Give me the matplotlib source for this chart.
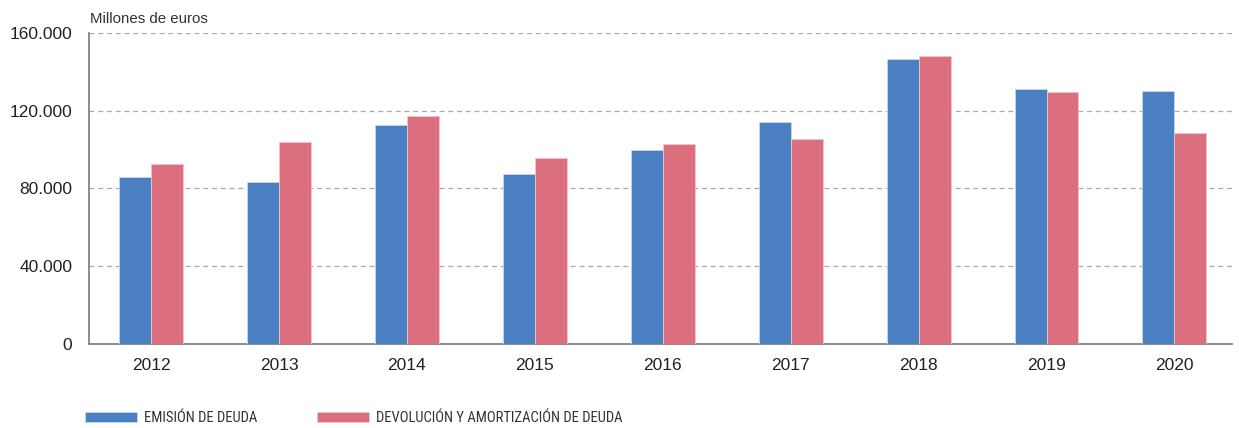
import numpy as np
import matplotlib.pyplot as plt
from matplotlib.ticker import FuncFormatter

years = ['2012', '2013', '2014', '2015', '2016', '2017', '2018', '2019', '2020']
emision = [85900, 83300, 112700, 87500, 99800, 114200, 146600, 131200, 130300]
devolucion = [92600, 103900, 117300, 95700, 102900, 105500, 148300, 129800, 108400]

azul = '#4A7FC1'
rosa = '#DB6F7E'

plt.rcParams['font.family'] = ['Liberation Sans', 'DejaVu Sans']

fig = plt.figure(figsize=(12.39, 4.28), dpi=100)
ax = fig.add_axes([89/1239, 1-344/428, (1232-89)/1239, (344-33)/428])

x = np.arange(len(years))
w = 0.25
ax.bar(x - w/2, emision, w, color=azul, edgecolor='#C8D6EA', linewidth=0.6, label='EMISIÓN DE DEUDA', zorder=3)
ax.bar(x + w/2, devolucion, w, color=rosa, edgecolor='#F0C4CA', linewidth=0.6, label='DEVOLUCIÓN Y AMORTIZACIÓN DE DEUDA', zorder=3)

ax.set_ylim(0, 160000)
ax.set_xlim(-0.485, 8.45)
ax.set_yticks([0, 40000, 80000, 120000, 160000])
ax.yaxis.set_major_formatter(FuncFormatter(lambda v, p: f'{int(v):,}'.replace(',', '.')))
ax.set_xticks(x)
ax.set_xticklabels(years)
ax.tick_params(axis='both', length=0, labelsize=12.5, colors='#222222')
ax.tick_params(axis='x', pad=10)
ax.tick_params(axis='y', pad=12)
ax.grid(axis='y', linestyle=(0, (4, 3)), color='#AAAAAA', linewidth=0.9, zorder=0)
for s in ['top', 'right']:
    ax.spines[s].set_visible(False)
for s in ['left', 'bottom']:
    ax.spines[s].set_color('#7A7A7A')
    ax.spines[s].set_linewidth(1.2)

fig.text(90/1239, 1-19/428, 'Millones de euros', fontsize=10.8, color='#333333', va='center')

# leyenda abajo, letra estrecha
fs = 10.5
px = fs * 100 / 72
fig.legend(loc='center left', bbox_to_anchor=(85/1239, 1-418/428), ncol=2, frameon=False,
           prop={'family': ['Roboto Condensed', 'Liberation Sans'], 'size': fs},
           handlelength=52/px, handleheight=9/px, columnspacing=60/px, handletextpad=7/px,
           borderpad=0, borderaxespad=0, labelcolor='#333333')

fig.savefig('out.png', dpi=100)
